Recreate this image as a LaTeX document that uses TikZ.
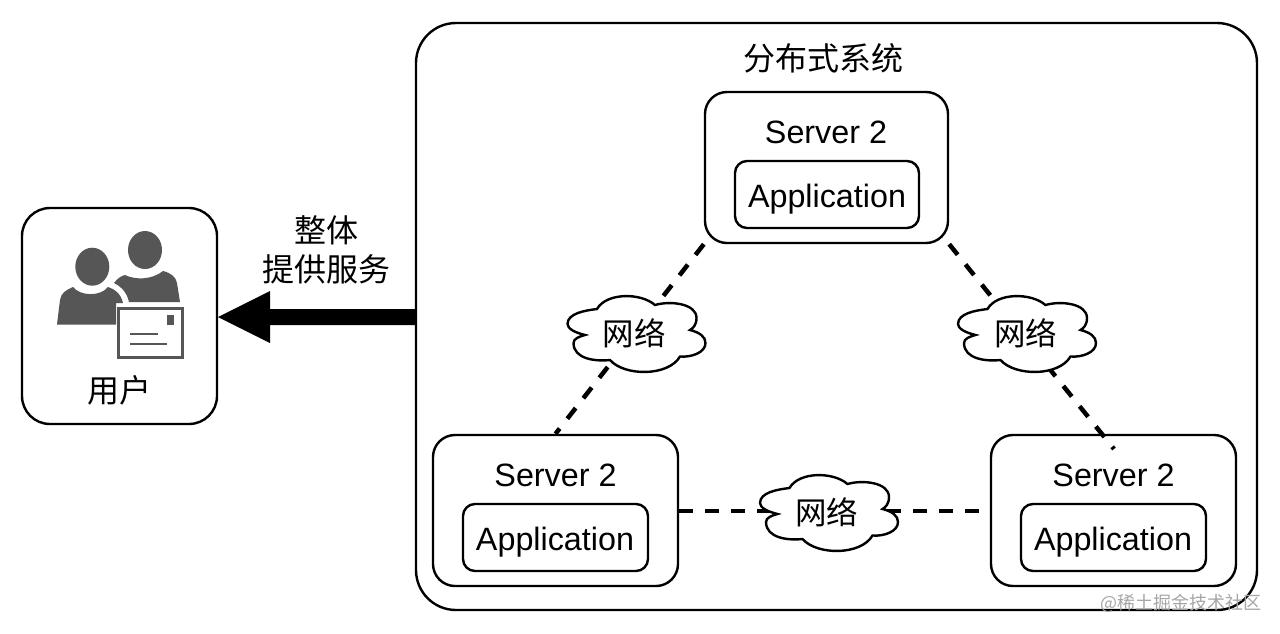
\documentclass[tikz,border=0pt]{standalone}
\usepackage{fontspec}
\setmainfont{Liberation Sans}
\newfontfamily\cjk{Noto Sans CJK SC}
\tikzset{
  x=1pt,y=-1pt,
  box/.style={draw=black,line width=2.4pt,fill=white,inner sep=0pt},
  lbl/.style={font=\fontsize{32.3}{38}\selectfont,inner sep=0pt,text=black},
  cjklbl/.style={font=\cjk\fontsize{32}{38.5}\selectfont,inner sep=0pt,text=black,align=center},
  cloudlbl/.style={font=\cjk\fontsize{31.5}{38}\selectfont,inner sep=0pt,text=black},
  netline/.style={line width=4.5pt,dash pattern=on 13.5pt off 12.5pt,black},
  cloudline/.style={draw=black,line width=2.4pt,fill=white},
  icon/.style={fill=iconc,draw=none},
}
\definecolor{iconc}{HTML}{565656}
\newcommand\mycloud[2]{%
  \draw[cloudline,shift={(#1,#2)}] (-51.5,1.5)
    .. controls (-62,-1) and (-69,-5) .. (-69,-9.5)
    .. controls (-69,-20) and (-52,-23) .. (-39.5,-24.5)
    .. controls (-30,-41) and (4,-41) .. (18.5,-28.5)
    .. controls (34,-33) and (60,-30) .. (60,-15.5)
    .. controls (60,-8) and (56,-5) .. (53.5,-3.5)
    .. controls (63,-1) and (69,3) .. (69,9.5)
    .. controls (69,19) and (55,24) .. (43.5,23)
    .. controls (32,43) and (-12,43) .. (-26.5,26.5)
    .. controls (-40,28) and (-63,26) .. (-63,9.5)
    .. controls (-63,5) and (-57,3) .. (-51.5,1.5) -- cycle;}
\begin{document}
\begin{tikzpicture}
\useasboundingbox (0,0) rectangle (1280,633);
\fill[white] (0,0) rectangle (1280,633);
% outer system
\node[box,minimum width=841pt,minimum height=587pt,rounded corners=40pt] (sys) at (836.5,316.5) {};
\node[cjklbl] (systitle) at (823,58) {分布式系统};
% user
\node[box,minimum width=195pt,minimum height=216pt,rounded corners=28pt] (user) at (119.5,316) {};
\node[cjklbl] (userlbl) at (119,390) {用户};
% servers
\node[box,minimum width=243pt,minimum height=151pt,rounded corners=22pt] (s1) at (826.5,167.5) {};
\node[box,minimum width=245pt,minimum height=151pt,rounded corners=22pt] (s2) at (555.5,510.5) {};
\node[box,minimum width=245pt,minimum height=151pt,rounded corners=22pt] (s3) at (1113.5,510.5) {};
\node[box,minimum width=184pt,minimum height=67pt,rounded corners=12pt] (a1) at (827,194.5) {};
\node[box,minimum width=185pt,minimum height=67pt,rounded corners=12pt] (a2) at (555.5,537.5) {};
\node[box,minimum width=185pt,minimum height=67pt,rounded corners=12pt] (a3) at (1113.5,537.5) {};
\node[lbl] (t1) at (826,132) {Server 2};
\node[lbl] (t2) at (555.5,475) {Server 2};
\node[lbl] (t3) at (1113.5,475) {Server 2};
\node[lbl] (p1) at (827,199.5) {Application};
\node[lbl] (p2) at (555,542.5) {Application};
\node[lbl] (p3) at (1113,542.5) {Application};
% connectors
\coordinate (s3dot) at (1114,449);
\draw[netline] (s1.south west) -- (s2.north);
\draw[netline] (s1.south east) -- (s3dot);
\draw[netline] (s2.east |- 0,511) -- (s3.west |- 0,511);
% clouds
\mycloud{636.5}{333.5}
\mycloud{1027}{333.5}
\mycloud{829}{512.5}
\node[cloudlbl] (c1) at (634,333) {网络};
\node[cloudlbl] (c2) at (1025.5,333) {网络};
\node[cloudlbl] (c3) at (826.5,512) {网络};
% big arrow
\coordinate (arrowtip) at (218,317);
\fill[black] (sys.west |- 0,309) -- (270,309) -- (270,291) -- (arrowtip) -- (270,343) -- (270,325) -- (sys.west |- 0,325) -- cycle;
\node[cjklbl] (arrowlbl) at (326,250) {整体\\提供服务};
% icon
\fill[icon] (145,250) ellipse[x radius=17,y radius=19];
\fill[icon] (114,283) .. controls (118,278) and (121,276) .. (125,275) .. controls (135,280) and (152,280) .. (163,271) .. controls (171,273) and (176,277) .. (177,283) -- (180,302) -- (129,302) .. controls (127,293) and (122,287) .. (114,283) -- cycle;
\fill[icon] (92.3,266.7) ellipse[x radius=17,y radius=19];
\fill[icon] (57,324.5) -- (60,300) .. controls (61,293) and (66,290) .. (73,287) .. controls (80,296) and (100,297) .. (108,287) .. controls (115,289) and (121,294) .. (123,303) -- (116,303) -- (116,324.5) -- cycle;
\draw[draw=iconc,line width=3pt,fill=white] (118,308) rectangle (182,357.5);
\fill[icon] (167,315) rectangle (174,325);
\draw[draw=iconc,line width=2.6pt] (130,334) -- (158,334);
\draw[draw=iconc,line width=2.6pt] (130,344) -- (167,344);
% watermark
\node[inner sep=0pt,anchor=east,text=black!35,font=\cjk\fontsize{18}{20}\selectfont] (wm) at (1262,603) {@稀土掘金技术社区};
\end{tikzpicture}
\end{document}
